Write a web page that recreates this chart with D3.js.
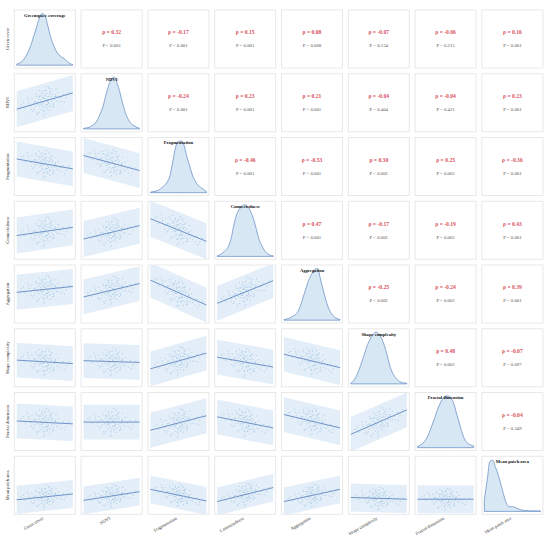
<!DOCTYPE html>
<html><head><meta charset="utf-8">
<script src="https://cdn.jsdelivr.net/npm/d3@7"></script>
<style>html,body{margin:0;padding:0;background:#fff;}svg{display:block;}</style>
</head><body>
<svg id="chart" width="550" height="537"></svg>
<script>
// ---------------- data ----------------
const diagTitles = ["Greenspace coverage","NDVI","Fragmentation","Connectedness","Aggregation","Shape complexity","Fractal dimension","Mean patch area"];
const axisLabels = ["Green cover","NDVI","Fragmentation","Connectedness","Aggregation","Shape complexity","Fractal dimension","Mean patch area"];

// Spearman rho, upper triangle (row i, columns i+1..7)
const rhoValues = [
  [0.32,-0.17,0.15,0.08,-0.07,-0.06,0.16],
  [-0.24,0.23,0.21,-0.04,-0.04,0.23],
  [-0.46,-0.53,0.30,0.25,-0.36],
  [0.47,-0.17,-0.19,0.43],
  [-0.25,-0.24,0.39],
  [0.48,-0.07],
  [-0.04]
];
const pLabels = [
  ["< 0.001","< 0.001","< 0.001","= 0.068","= 0.134","= 0.215","< 0.001"],
  ["< 0.001","< 0.001","< 0.001","= 0.404","= 0.421","< 0.001"],
  ["< 0.001","< 0.001","< 0.001","< 0.001","< 0.001"],
  ["< 0.001","< 0.001","< 0.001","< 0.001"],
  ["< 0.001","< 0.001","< 0.001"],
  ["< 0.001","= 0.097"],
  ["= 0.349"]
];

// fitted values (scaled 0..1) at left and right end of each lower panel (row i, columns 0..i-1)
const fitLeft = [
  [],
  [0.39],
  [0.63,0.69],
  [0.41,0.35,0.70],
  [0.53,0.45,0.74,0.34],
  [0.46,0.45,0.31,0.51,0.56],
  [0.51,0.49,0.35,0.58,0.62,0.28],
  [0.25,0.24,0.43,0.22,0.22,0.29,0.26]
];
const fitRight = [
  [],
  [0.67],
  [0.46,0.43],
  [0.55,0.58,0.31],
  [0.63,0.68,0.31,0.73],
  [0.40,0.42,0.58,0.34,0.33],
  [0.46,0.49,0.60,0.39,0.39,0.70],
  [0.35,0.39,0.23,0.46,0.43,0.26,0.26]
];
// half-width of prediction band per row (scaled units)
const bandHalf = [0,0.31,0.30,0.31,0.30,0.30,0.30,0.24];

// density estimates (relative), 21 evenly spaced points across each variable's range
const densities = [
  [0.02,0.04,0.08,0.15,0.25,0.38,0.55,0.72,0.90,1.00,0.97,0.78,0.56,0.40,0.28,0.20,0.16,0.12,0.07,0.03,0.01],
  [0.01,0.02,0.03,0.06,0.10,0.18,0.30,0.45,0.66,0.85,0.97,1.00,0.88,0.70,0.48,0.30,0.18,0.10,0.06,0.03,0.01],
  [0.01,0.02,0.03,0.05,0.09,0.14,0.20,0.33,0.60,0.88,0.99,1.00,0.92,0.70,0.52,0.34,0.22,0.14,0.10,0.06,0.02],
  [0.01,0.03,0.07,0.12,0.19,0.35,0.62,0.82,0.92,0.98,1.00,0.96,0.86,0.72,0.52,0.32,0.20,0.10,0.05,0.02,0.01],
  [0.01,0.02,0.04,0.07,0.10,0.17,0.30,0.47,0.64,0.80,0.90,0.98,1.00,0.80,0.58,0.38,0.22,0.12,0.06,0.03,0.01],
  [0.01,0.06,0.15,0.28,0.43,0.60,0.76,0.87,0.96,1.00,0.97,0.88,0.74,0.55,0.34,0.20,0.12,0.06,0.03,0.02,0.01],
  [0.02,0.05,0.09,0.16,0.27,0.41,0.56,0.72,0.85,0.95,1.00,1.00,0.96,0.84,0.64,0.45,0.27,0.14,0.08,0.05,0.03],
  [0.23,0.60,0.97,0.99,0.85,0.70,0.50,0.30,0.14,0.09,0.09,0.08,0.05,0.03,0.02,0.015,0.01,0.01,0.01,0.01,0.01]
];

// observation cloud: position along x (0..1) and residual (in band-half units)
const cloudU = [0.52,0.31,0.64,0.47,0.58,0.22,0.71,0.44,0.55,0.36,0.49,0.62,0.40,0.68,0.27,0.53,0.45,0.78,0.33,0.57,
                0.50,0.61,0.39,0.15,0.66,0.48,0.42,0.59,0.74,0.35,0.51,0.46,0.83,0.29,0.56,0.63,0.41,0.54,0.69,0.38,
                0.12,0.60,0.47,0.52,0.88,0.25,0.57,0.43,0.65,0.50,0.34,0.72,0.45,0.58,0.19,0.54,0.62,0.40,0.48,0.80,
                0.30,0.67,0.53,0.44,0.08,0.56,0.37,0.61,0.49,0.93,0.42,0.55,0.70,0.26,0.51,0.46,0.64,0.33,0.59,0.48,
                0.57,0.39,0.50,0.66,0.43,0.21,0.53,0.75,0.47,0.36,0.60,0.44,0.85,0.52,0.31,0.58,0.49,0.68,0.41,0.55];
const cloudE = [0.12,-0.35,0.28,-0.08,0.45,0.18,-0.22,0.60,-0.48,0.05,0.33,-0.15,-0.62,0.09,0.40,-0.28,0.71,-0.05,-0.18,0.22,
                -0.40,0.55,0.26,-0.10,-0.52,-0.02,0.15,-0.70,0.32,0.48,0.38,-0.33,0.10,-0.45,0.02,0.66,-0.25,-0.58,0.20,-0.12,
                0.30,-0.38,0.50,0.08,-0.20,-0.05,0.85,0.42,-0.30,-0.85,0.62,0.04,-0.15,-0.42,0.55,0.25,0.14,0.80,-0.65,-0.35,
                0.06,-0.08,0.46,-0.50,0.20,-0.22,-0.75,0.36,0.18,0.10,0.00,-0.28,0.58,-0.30,0.70,0.28,-0.55,0.16,0.24,-0.95,
                -0.18,0.44,0.68,-0.40,-0.12,0.35,0.92,-0.26,0.22,-0.66,0.52,0.03,-0.44,-0.30,0.15,0.74,-0.58,0.11,0.40,-0.08];

// ---------------- drawing ----------------
const svg = d3.select("#chart");
const n = diagTitles.length;
const idx = d3.range(n);
const colBand = d3.scaleBand().domain(idx).range([14.3, 542.9]).paddingInner(0.087);
const rowBand = d3.scaleBand().domain(idx).range([10, 514.3]).paddingInner(0.0895);
const W = colBand.bandwidth(), H = rowBand.bandwidth();

const serif = "'Liberation Serif','Times New Roman',serif";
const lineColor = "#6e93c8";
const bandColor = "#e4eef8";
const pointColor = "#8fbfe0";

const cloud = d3.range(Math.min(cloudU.length, cloudE.length)).map(k => ({u: cloudU[k], e: cloudE[k]}));

for (let i = 0; i < n; i++) {
  for (let j = 0; j < n; j++) {
    const x0 = colBand(j), y0 = rowBand(i);
    const g = svg.append("g");
    const clipId = `clip-${i}-${j}`;
    g.append("clipPath").attr("id", clipId).append("rect")
      .attr("x", x0).attr("y", y0).attr("width", W).attr("height", H);
    const xs = d3.scaleLinear().domain([0,1]).range([x0 + 0.04*W, x0 + 0.96*W]);
    if (i > j) {
      const ys = d3.scaleLinear().domain([0,1]).range([y0 + H, y0]);
      const a = fitLeft[i][j], b = fitRight[i][j], hb = bandHalf[i];
      const fit = u => a + (b - a) * u;
      const inner = g.append("g").attr("clip-path", `url(#${clipId})`);
      inner.append("path")
        .datum([0, 1])
        .attr("fill", bandColor)
        .attr("d", d3.area().x(u => xs(u)).y0(u => ys(fit(u) - hb)).y1(u => ys(fit(u) + hb)));
      inner.selectAll("circle").data(cloud).join("circle")
        .attr("cx", d => xs(d.u))
        .attr("cy", d => ys(fit(d.u) + d.e * hb * 0.85))
        .attr("r", 0.55)
        .attr("fill", pointColor)
        .attr("opacity", 0.75);
      inner.append("path")
        .datum([0, 1])
        .attr("fill", "none")
        .attr("stroke", lineColor)
        .attr("stroke-width", 1)
        .attr("d", d3.line().x(u => xs(u)).y(u => ys(fit(u))));
    } else if (i === j) {
      const dens = densities[i];
      const xd = d3.scaleLinear().domain([0, dens.length - 1]).range([x0 + 0.04*W, x0 + 0.96*W]);
      const yd = d3.scaleLinear().domain([0, 1]).range([y0 + 0.95*H, y0 + 0.06*H]);
      g.append("path")
        .datum(dens)
        .attr("fill", "#d8e7f4")
        .attr("stroke", lineColor)
        .attr("stroke-width", 0.8)
        .attr("d", d3.area().curve(d3.curveMonotoneX)
          .x((d, k) => xd(k)).y0(yd(0)).y1(d => yd(d)));
      g.append("text")
        .attr("x", x0 + W/2).attr("y", y0 + 0.12*H)
        .attr("text-anchor", "middle")
        .attr("font-family", serif).attr("font-weight", "bold")
        .attr("font-size", 4.6).attr("fill", "#111")
        .text(diagTitles[i]);
    } else {
      const rho = rhoValues[i][j - i - 1];
      const p = pLabels[i][j - i - 1];
      g.append("text")
        .attr("x", x0 + W/2).attr("y", y0 + 0.385*H)
        .attr("dy", "0.35em")
        .attr("text-anchor", "middle")
        .attr("font-family", serif).attr("font-weight", "bold")
        .attr("font-size", 5.6).attr("fill", "#d9505e")
        .text(`ρ = ${rho.toFixed(2)}`);
      g.append("text")
        .attr("x", x0 + W/2).attr("y", y0 + 0.615*H)
        .attr("dy", "0.35em")
        .attr("text-anchor", "middle")
        .attr("font-family", serif)
        .attr("font-size", 4.8).attr("fill", "#555")
        .text(`P ${p}`);
    }
    g.append("rect")
      .attr("x", x0).attr("y", y0).attr("width", W).attr("height", H)
      .attr("fill", "none").attr("stroke", "#e6e6e6").attr("stroke-width", 0.9);
  }
}

// row labels (left)
svg.append("g").selectAll("text").data(idx).join("text")
  .attr("transform", i => `translate(7.5,${rowBand(i) + H/2}) rotate(-90)`)
  .attr("text-anchor", "middle")
  .attr("dy", "0.35em")
  .attr("font-family", serif).attr("font-size", 4.5).attr("fill", "#333")
  .text(i => axisLabels[i]);

// column labels (bottom, angled)
svg.append("g").selectAll("text").data(idx).join("text")
  .attr("transform", j => `translate(${colBand(j) + W/2 - 1},${519}) rotate(-30)`)
  .attr("text-anchor", "end")
  .attr("font-family", serif).attr("font-size", 4.5).attr("fill", "#333")
  .text(j => axisLabels[j]);
</script>
</body></html>
